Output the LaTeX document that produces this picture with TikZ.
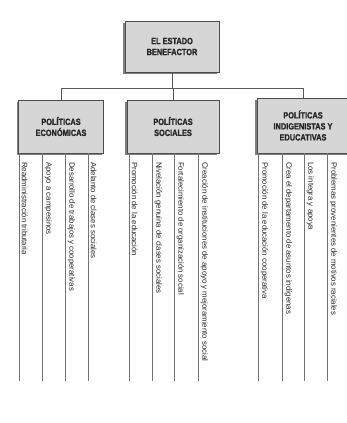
\documentclass[tikz,border=0pt]{standalone}
\usepackage{fontspec}
\setmainfont{Liberation Sans}
\newfontfamily\headfont[FakeStretch=0.82, FakeBold=1.2]{Liberation Sans Bold}
\usetikzlibrary{shadows}
\begin{document}
\begin{tikzpicture}[x=1pt,y=-1pt,
  boxsty/.style={draw=black!70, fill=black!16, line width=0.6pt, rectangle, inner sep=0pt,
     drop shadow={shadow xshift=-2pt, shadow yshift=-2pt, fill=black!50, opacity=1},
     font=\headfont\fontsize{9}{11}\selectfont, align=center, text=black!85},
  coltext/.style={font=\fontsize{7.8}{9}\selectfont, rotate=-90, anchor=south west, inner sep=0pt, text=black!85},
  colline/.style={draw=black!55, line width=0.5pt},
  conn/.style={draw=black!65, line width=0.6pt}]
\useasboundingbox (0,0) rectangle (346,423);

\node[boxsty, minimum width=94pt, minimum height=51pt] (top) at (172,46.5) {EL ESTADO\\BENEFACTOR};
\node[boxsty, minimum width=85pt, minimum height=53pt] (econ) at (61,126.5) {POLÍTICAS\\ECONÓMICAS};
\node[boxsty, minimum width=92pt, minimum height=53pt] (soc) at (173,126.5) {POLÍTICAS\\SOCIALES};
\node[boxsty, minimum width=92pt, minimum height=55pt] (ind) at (303,125.5) {POLÍTICAS\\INDIGENISTAS Y\\EDUCATIVAS};

\coordinate (bar) at (172,88);
\draw[conn] (top.south) -- (top.south |- bar);
\draw[conn] (econ.north) -- (econ.north |- bar) -- (ind.north |- bar) -- (ind.north);
\draw[conn] (soc.north) -- (soc.north |- bar);

\foreach \x in {19,42,65,88,129,152,174,198,258,282,304,327}{
  \draw[colline] (\x,153) -- (\x,381);
}

\node[coltext] (e1) at (21.5,162) {Readministración tributaria};
\node[coltext] (e2) at (44.5,162) {Apoyo a campesinos};
\node[coltext] (e3) at (67.5,162) {Desarrollo de trabajos y cooperativas};
\node[coltext] (e4) at (90.5,162) {Adelanto de clases sociales};

\node[coltext] (s1) at (131.5,162) {Promoción de la educación};
\node[coltext] (s2) at (154.5,162) {Nivelación genuina de clases sociales};
\node[coltext] (s3) at (176.5,162) {Fortalecimiento de organización social};
\node[coltext] (s4) at (200.5,162) {Creación de instituciones de apoyo y mejoramiento social};

\node[coltext] (i1) at (260.5,162) {Promoción de la educación cooperativa};
\node[coltext] (i2) at (284.5,162) {Crea el departamento de asuntos indígenas};
\node[coltext] (i3) at (306.5,162) {Los integra y apoya};
\node[coltext] (i4) at (329.5,162) {Problemas provenientes de motivos raciales};
\end{tikzpicture}
\end{document}
